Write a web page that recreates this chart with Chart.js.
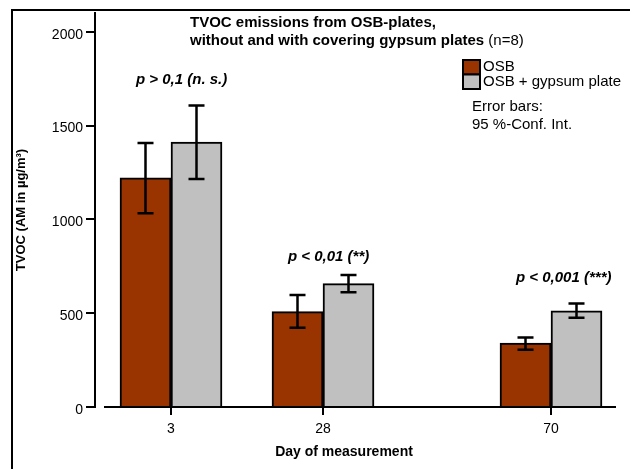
<!DOCTYPE html>
<html>
<head>
<meta charset="utf-8">
<script src="https://cdn.jsdelivr.net/npm/chart.js@4/dist/chart.umd.min.js"></script>
<style>
  html, body { margin: 0; padding: 0; background: #fff; }
  #wrap { position: relative; width: 630px; height: 469px; }
</style>
</head>
<body>
<div id="wrap"><canvas id="chart"></canvas></div>
<script>
"use strict";

// x slots: blanks keep the uneven spacing between measurement days
const slots = ['', '3', '', '28', '', '', '70', ''];
const days = ['3', '28', '70'];

const osbMean = [1222, 508, 341];
const osbLow = [1033, 422, 305];
const osbHigh = [1407, 597, 371];

const gypsumMean = [1412, 658, 513];
const gypsumLow = [1215, 611, 476];
const gypsumHigh = [1607, 704, 551];

const yTicks = [0, 500, 1000, 1500, 2000];

const pLabels = ['p > 0,1 (n. s.)', 'p < 0,01 (**)', 'p < 0,001 (***)'];
const pLabelY = [1745, 800, 690];

const FONT = 'Arial, "Liberation Sans", sans-serif';
const OSB_COLOR = '#993300';
const GYPSUM_COLOR = '#C0C0C0';

(() => {
  Chart.defaults.font.family = FONT;
  Chart.defaults.color = '#000';

  const points = (vals) => days.map((d, i) => ({ x: d, y: vals[i] }));

  const extras = {
    id: 'extras',
    afterDatasetsDraw(chart) {
      const { ctx, chartArea, scales: { y } } = chart;
      ctx.save();

      // error bars
      ctx.strokeStyle = '#000';
      ctx.lineWidth = 2.5;
      chart.data.datasets.forEach((ds, di) => {
        chart.getDatasetMeta(di).data.forEach((bar, i) => {
          const top = y.getPixelForValue(ds.errHigh[i]);
          const bottom = y.getPixelForValue(ds.errLow[i]);
          ctx.beginPath();
          ctx.moveTo(bar.x, top);
          ctx.lineTo(bar.x, bottom);
          ctx.moveTo(bar.x - 8, top);
          ctx.lineTo(bar.x + 8, top);
          ctx.moveTo(bar.x - 8, bottom);
          ctx.lineTo(bar.x + 8, bottom);
          ctx.stroke();
        });
      });

      // x axis line (starts a bit right of the y axis)
      const y0 = y.getPixelForValue(0);
      ctx.lineWidth = 2;
      ctx.beginPath();
      ctx.moveTo(chartArea.left + 9, y0);
      ctx.lineTo(chartArea.right - 11, y0);
      ctx.stroke();
      ctx.restore();
    },
    afterDraw(chart) {
      const { ctx, scales: { x, y } } = chart;
      ctx.save();

      // page frame
      ctx.strokeStyle = '#000';
      ctx.lineWidth = 2;
      ctx.beginPath();
      ctx.moveTo(12, 469);
      ctx.lineTo(12, 10);
      ctx.lineTo(630, 10);
      ctx.stroke();

      ctx.fillStyle = '#000';
      ctx.textBaseline = 'middle';
      ctx.textAlign = 'left';

      // title
      ctx.font = 'bold 15px ' + FONT;
      ctx.fillText('TVOC emissions from OSB-plates,', 190, 23);
      const line2 = 'without and with covering gypsum plates ';
      ctx.fillText(line2, 190, 41);
      const w2 = ctx.measureText(line2).width;
      ctx.font = '15px ' + FONT;
      ctx.fillText('(n=8)', 190 + w2, 41);

      // p values
      ctx.font = 'italic bold 15px ' + FONT;
      pLabels.forEach((t, i) => {
        ctx.fillText(t, x.getPixelForValue(days[i]) - 35, y.getPixelForValue(pLabelY[i]));
      });

      // legend
      const boxes = [[OSB_COLOR, 60, 'OSB'], [GYPSUM_COLOR, 74.5, 'OSB + gypsum plate']];
      ctx.font = '15px ' + FONT;
      boxes.forEach(([c, top, label]) => {
        ctx.fillStyle = c;
        ctx.fillRect(463, top, 17, 14.5);
        ctx.strokeRect(463, top, 17, 14.5);
        ctx.fillStyle = '#000';
        ctx.fillText(label, 483, top + 7);
      });
      ctx.fillText('Error bars:', 472, 107);
      ctx.fillText('95 %-Conf. Int.', 472, 125);

      // x axis title
      ctx.font = 'bold 14px ' + FONT;
      ctx.textAlign = 'center';
      ctx.fillText('Day of measurement', 344, 452);
      ctx.restore();
    }
  };

  new Chart(document.getElementById('chart'), {
    type: 'bar',
    data: {
      datasets: [
        {
          label: 'OSB',
          data: points(osbMean),
          errLow: osbLow,
          errHigh: osbHigh,
          backgroundColor: OSB_COLOR,
          borderColor: '#000',
          borderWidth: 2
        },
        {
          label: 'OSB + gypsum plate',
          data: points(gypsumMean),
          errLow: gypsumLow,
          errHigh: gypsumHigh,
          backgroundColor: GYPSUM_COLOR,
          borderColor: '#000',
          borderWidth: 2
        }
      ]
    },
    options: {
      responsive: true,
      maintainAspectRatio: false,
      animation: false,
      barThickness: 51,
      layout: { padding: { top: 13, right: 3, left: 0, bottom: 0 } },
      plugins: {
        legend: { display: false },
        tooltip: { enabled: false }
      },
      scales: {
        x: {
          type: 'category',
          labels: slots,
          offset: false,
          grid: { drawOnChartArea: false, offset: false, color: '#000', lineWidth: 2, tickLength: 8 },
          border: { display: false },
          ticks: { autoSkip: false, maxRotation: 0, padding: 6, font: { size: 14 } },
          afterBuildTicks: (s) => { s.ticks = s.ticks.filter((t) => slots[t.value] !== ''); },
          afterFit: (s) => { s.height = 62; }
        },
        y: {
          min: 0,
          max: 2100,
          afterBuildTicks: (s) => { s.ticks = yTicks.map((v) => ({ value: v })); },
          grid: { drawOnChartArea: false, color: '#000', lineWidth: 2, tickLength: 9 },
          border: { color: '#000', width: 2 },
          ticks: { padding: 3, labelOffset: 3, font: { size: 14 }, callback: (v) => String(v) },
          title: {
            display: true,
            text: 'TVOC (AM in µg/m³)',
            font: { size: 13, weight: 'bold' },
            padding: { top: 14, bottom: 0 }
          },
          afterFit: (s) => { s.width = 95; }
        }
      }
    },
    plugins: [extras]
  });
})();
</script>
</body>
</html>
